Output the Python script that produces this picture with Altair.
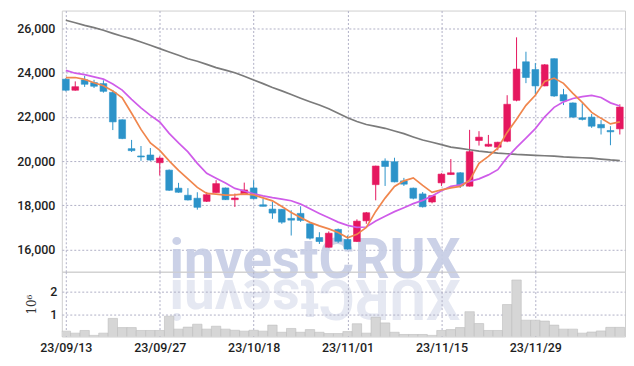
import altair as alt
import pandas as pd

dates = [
    "23/09/13", "23/09/14", "23/09/15", "23/09/18", "23/09/19", "23/09/20", "23/09/21", "23/09/22", "23/09/25", "23/09/26", "23/09/27",
    "23/10/04", "23/10/05", "23/10/06", "23/10/10", "23/10/11", "23/10/12", "23/10/13", "23/10/16", "23/10/17", "23/10/18",
    "23/10/19", "23/10/20", "23/10/23", "23/10/24", "23/10/25", "23/10/26", "23/10/27", "23/10/30", "23/10/31", "23/11/01",
    "23/11/02", "23/11/03", "23/11/06", "23/11/07", "23/11/08", "23/11/09", "23/11/10", "23/11/13", "23/11/14", "23/11/15",
    "23/11/16", "23/11/17", "23/11/20", "23/11/21", "23/11/22", "23/11/23", "23/11/24", "23/11/27", "23/11/28", "23/11/29",
    "23/11/30", "23/12/01", "23/12/04", "23/12/05", "23/12/06", "23/12/07", "23/12/08", "23/12/11", "23/12/12",
]

opens = [23700, 23200, 23670, 23545, 23500, 23105, 21865, 20560, 20230, 20275,
         19925, 19590, 18775, 18455, 18320, 18180, 18575, 18785, 18255, 18480,
         18785, 18025, 17830, 17820, 17410, 17635, 17165, 16545, 16105, 16910,
         16455, 16365, 17300, 18935, 20000, 19970, 19105, 18775, 18515, 18150,
         19015, 19390, 19470, 18865, 20930, 20670, 20625, 20895, 22745, 24485,
         24135, 23395, 24625, 23000, 22625, 21955, 21985, 21655, 21380, 21455]
highs = [23750, 23600, 23850, 23670, 23650, 23210, 21880, 20955, 20680, 20590,
         20215, 19620, 19015, 18775, 18590, 18605, 19135, 18800, 18530, 19025,
         19135, 18300, 18150, 17830, 17775, 17955, 17180, 16785, 16820, 16950,
         16635, 17365, 17700, 19790, 20120, 20150, 19240, 18800, 18600, 18450,
         19450, 20090, 19500, 21410, 21350, 21180, 20870, 22975, 25590, 24940,
         24425, 24380, 24640, 23260, 22650, 22610, 22125, 21850, 21575, 22565]
lows = [23150, 23180, 23350, 23300, 23090, 21400, 20990, 20410, 20010, 20010,
        19350, 18650, 18570, 18220, 17805, 18150, 18560, 18240, 17925, 18470,
        18280, 17950, 17390, 17165, 16635, 17250, 16455, 16255, 16090, 16300,
        16000, 16340, 17165, 18225, 18875, 19040, 18875, 18270, 17900, 18090,
        18875, 19380, 18785, 18850, 20700, 20650, 20485, 20850, 22700, 23520,
        23020, 23380, 22900, 22530, 21960, 21835, 21500, 21200, 20715, 21200]
closes = [23200, 23360, 23470, 23380, 23150, 21770, 21015, 20470, 20185, 20045,
          20135, 18680, 18590, 18240, 17910, 18480, 18980, 18255, 18330, 18695,
          18300, 17955, 17650, 17240, 17330, 17320, 16515, 16365, 16740, 16375,
          16025, 17285, 17665, 19775, 19755, 19060, 18955, 18320, 17935, 18435,
          19410, 19470, 18875, 20425, 21080, 20760, 20850, 22565, 24155, 23775,
          23395, 24350, 22940, 22715, 21985, 21880, 21575, 21500, 21320, 22440]

volume_m = [0.24, 0.15, 0.27, 0.05, 0.15, 0.81, 0.40, 0.40, 0.27, 0.27,
            0.27, 0.91, 0.33, 0.42, 0.55, 0.33, 0.46, 0.33, 0.28, 0.24,
            0.28, 0.24, 0.51, 0.19, 0.36, 0.19, 0.31, 0.19, 0.13, 0.13,
            0.22, 0.57, 0.15, 0.86, 0.61, 0.19, 0.09, 0.09, 0.09, 0.05,
            0.27, 0.31, 0.40, 1.11, 0.58, 0.27, 0.27, 1.43, 2.53, 0.73,
            0.73, 0.69, 0.51, 0.33, 0.33, 0.15, 0.20, 0.25, 0.41, 0.41]

ma_short = [23770, 23775, 23690, 23535, 23400, 23170, 22860, 22160, 21430, 20820,
            20480, 20010, 19580, 19190, 18810, 18540, 18510, 18465, 18470, 18515,
            18470, 18335, 18200, 17950, 17680, 17455, 17230, 17070, 16935, 16775,
            16530, 16690, 17005, 17725, 18325, 18855, 19105, 19240, 18900, 18585,
            18700, 18790, 18855, 19130, 19895, 20210, 20585, 21295, 21885, 22515,
            22970, 23600, 23750, 23510, 23060, 22655, 22200, 21930, 21680, 21770]
ma_mid = [24100, 23970, 23905, 23805, 23705, 23480, 23205, 22790, 22405, 22065,
          21765, 21250, 20820, 20415, 19895, 19445, 19220, 19005, 18765, 18645,
          18525, 18425, 18345, 18280, 18205, 18055, 17845, 17635, 17435, 17240,
          17095, 17005, 17020, 17290, 17510, 17715, 17890, 18075, 18225, 18420,
          18655, 18855, 18925, 19080, 19195, 19375, 19610, 20165, 20620, 21040,
          21465, 22000, 22425, 22675, 22825, 22910, 22965, 22875, 22630, 22485]
ma_long = [26360, 26250, 26130, 26030, 25910, 25770, 25640, 25520, 25380, 25230,
           25080, 24930, 24780, 24620, 24510, 24370, 24220, 24110, 23990, 23830,
           23660, 23500, 23320, 23170, 23010, 22840, 22680, 22530, 22360, 22160,
           21960, 21790, 21650, 21570, 21480, 21360, 21240, 21090, 20950, 20850,
           20740, 20630, 20570, 20510, 20450, 20400, 20360, 20330, 20300, 20280,
           20260, 20240, 20220, 20190, 20170, 20150, 20130, 20090, 20050, 20020]

price_ticks = [16000, 18000, 20000, 22000, 24000, 26000]
volume_ticks = [1, 2]
x_tick_idx = [0, 10, 20, 30, 40, 50]
watermark = "investCRUX"

UP = "#e5175f"
DOWN = "#2c93c9"
GRID = "#b0b0c6"
FONT = "Roboto"
LBL = "#1e1e1e"

n = len(dates)
df = pd.DataFrame({
    "idx": list(range(n)),
    "date": dates,
    "open": opens,
    "high": highs,
    "low": lows,
    "close": closes,
    "vol": [v * 1e6 for v in volume_m],
    "ma_s": ma_short,
    "ma_m": ma_mid,
    "ma_l": ma_long,
})
df["dir"] = ["up" if c >= o else "down" for o, c in zip(opens, closes)]
df["bx1"] = df["idx"] - 0.36
df["bx2"] = df["idx"] + 0.36
df["vx1"] = df["idx"] - 0.5
df["vx2"] = df["idx"] + 0.5

x_scale = alt.Scale(domain=[-0.43, 59.55], nice=False, zero=False)
y_scale = alt.Scale(domain=[15000, 26800], nice=False, zero=False)
v_scale = alt.Scale(domain=[0, 2.9e6], nice=False, zero=True)
color_scale = alt.Scale(domain=["up", "down"], range=[UP, DOWN])

label_expr = "[" + ",".join("'" + d + "'" for d in dates) + "][datum.value]"

grid_kw = dict(grid=True, gridDash=[2, 2], gridColor=GRID, gridOpacity=1, gridWidth=1)
lbl_kw = dict(labelFontSize=12.5, labelColor=LBL, labelFont=FONT, labelFontWeight=500)

x_grid_axis = alt.Axis(values=x_tick_idx, labels=False, ticks=False, domain=False,
                       title=None, **grid_kw)
x_label_axis = alt.Axis(values=x_tick_idx, labelExpr=label_expr, ticks=False, domain=False,
                        title=None, labelFlush=False, labelPadding=5, **lbl_kw, **grid_kw)
y_axis = alt.Axis(values=price_ticks, labelExpr="format(datum.value, ',')", ticks=False,
                  domain=False, title=None, labelPadding=7,
                  minExtent=48, maxExtent=48, **lbl_kw, **grid_kw)
v_axis = alt.Axis(values=[v * 1e6 for v in volume_ticks], labelExpr="datum.value/1000000",
                  ticks=False, domain=False,
                  title="10⁶", titleFont="DejaVu Serif", titleFontSize=12,
                  titleFontWeight="normal", titleColor="#333333", titlePadding=7,
                  labelPadding=5, minExtent=16, maxExtent=16, **lbl_kw, **grid_kw)

base = alt.Chart(df)

wm_df = pd.DataFrame({"t": [watermark], "r": [watermark[::-1]]})
wm_main = alt.Chart(wm_df).mark_text(
    font="Roboto", fontWeight="bold", fontSize=55, color="#c6cde5", opacity=0.9,
    align="center", baseline="alphabetic"
).encode(x=alt.value(254), y=alt.value(268), text="t:N")
wm_reflect = alt.Chart(wm_df).mark_text(
    font="Roboto", fontWeight="bold", fontSize=55, color="#e3e6f1", opacity=0.9,
    align="center", baseline="alphabetic", angle=180
).encode(x=alt.value(254), y=alt.value(270), text="r:N")

wicks = base.mark_rule(strokeWidth=1).encode(
    x=alt.X("idx:Q", scale=x_scale, axis=x_grid_axis),
    y=alt.Y("low:Q", scale=y_scale, axis=y_axis),
    y2="high:Q",
    color=alt.Color("dir:N", scale=color_scale, legend=None),
)
bodies = base.mark_bar(strokeWidth=0.6).encode(
    x=alt.X("bx1:Q", scale=x_scale, axis=x_grid_axis),
    x2="bx2:Q",
    y=alt.Y("open:Q", scale=y_scale, axis=y_axis),
    y2="close:Q",
    color=alt.Color("dir:N", scale=color_scale, legend=None),
    stroke=alt.Color("dir:N", scale=color_scale, legend=None),
)

def ma_line(field, color):
    return base.mark_line(strokeWidth=1.7, color=color).encode(
        x=alt.X("idx:Q", scale=x_scale, axis=x_grid_axis),
        y=alt.Y(field + ":Q", scale=y_scale, axis=y_axis),
    )

price = alt.layer(
    wm_main, wm_reflect, wicks, bodies,
    ma_line("ma_l", "#7b7b7b"),
    ma_line("ma_m", "#cf5ce9"),
    ma_line("ma_s", "#f0864d"),
).properties(width=565, height=262)

volume = base.mark_bar(fill="#d6d6d6", stroke="#bdbdbd", strokeWidth=0.6, clip=True).encode(
    x=alt.X("vx1:Q", scale=x_scale, axis=x_label_axis),
    x2="vx2:Q",
    y=alt.Y("vol:Q", scale=v_scale, axis=v_axis),
    y2=alt.datum(0),
).properties(width=565, height=65)

chart = alt.vconcat(price, volume, spacing=0, bounds="flush").properties(
    padding={"left": 5, "top": 1, "right": 0, "bottom": 5},
    background="white",
).configure_view(stroke="#cfcfcf")

chart.save("out.html", embed_options={"renderer": "svg", "actions": False})
